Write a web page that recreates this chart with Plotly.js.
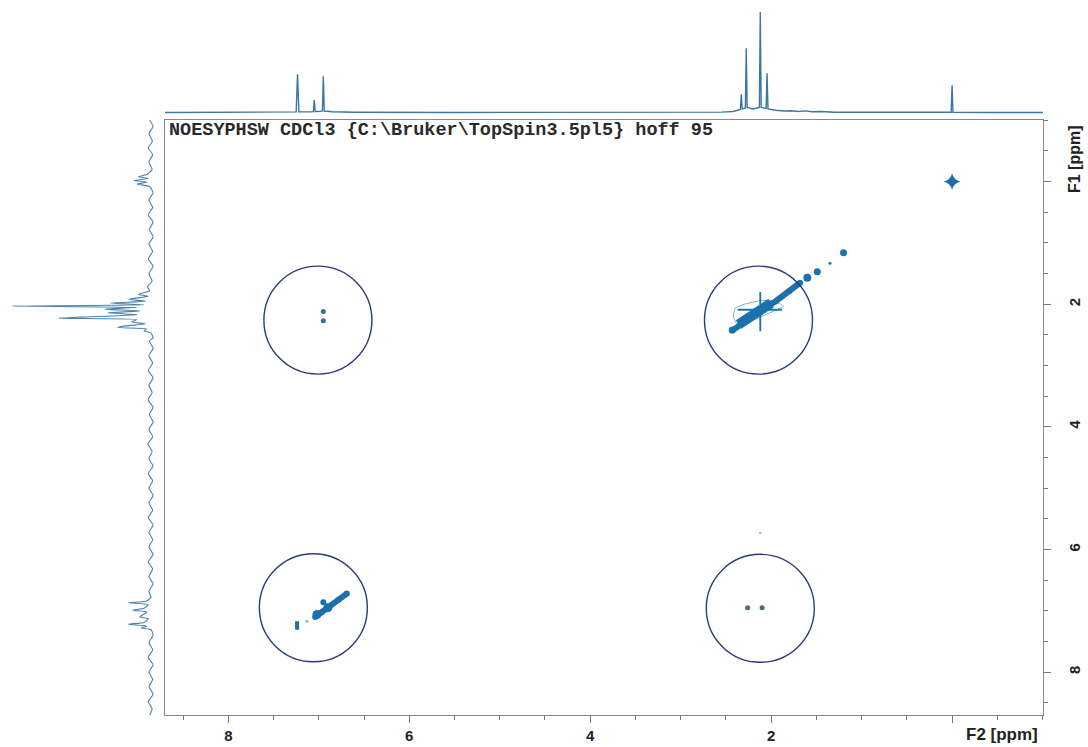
<!DOCTYPE html>
<html>
<head>
<meta charset="utf-8">
<script src="https://cdn.plot.ly/plotly-3.0.1.min.js"></script>
<style>html,body{margin:0;padding:0;background:#fff;}#plot{width:1088px;height:747px;}</style>
</head>
<body>
<div id="plot"></div>
<script>
// ---------- data (ppm values) ----------
const titleText = "NOESYPHSW CDCl3 {C:\\Bruker\\TopSpin3.5pl5} hoff 95";
const f2Label = "F2 [ppm]";
const f1Label = "F1 [ppm]";
const tickVals = [8, 6, 4, 2, 0];
const tickText = ["8", "6", "4", "2", ""];

// 1D spectrum on top (F2 projection): ppm / relative intensity
const topPpm = [8.70, 7.60, 7.40, 7.25, 7.235, 7.22, 7.10, 7.06, 7.05, 7.04,
                6.98, 6.96, 6.95, 6.94, 6.85, 6.60, 5.50, 4.00, 3.00, 2.55,
                2.42, 2.34, 2.33, 2.32, 2.285, 2.275, 2.265, 2.20, 2.13, 2.12,
                2.11, 2.055, 2.045, 2.035, 1.95, 1.85, 1.78, 1.70, 1.62, 1.55,
                1.45, 1.30, 1.00, 0.50, 0.01, 0.00, -0.01, -0.40, -1.005];
const topInt = [0.000, 0.001, 0.004, 0.006, 0.380, 0.008, 0.006, 0.008, 0.125, 0.010,
                0.012, 0.015, 0.360, 0.015, 0.008, 0.003, 0.000, 0.002, 0.001, 0.004,
                0.010, 0.030, 0.180, 0.035, 0.045, 0.640, 0.050, 0.035, 0.050, 1.000,
                0.050, 0.040, 0.390, 0.035, 0.022, 0.015, 0.018, 0.010, 0.016, 0.008,
                0.010, 0.003, 0.002, 0.000, 0.003, 0.270, 0.003, 0.000, 0.000];

// 1D spectrum on the left (F1 projection): ppm / relative intensity
const leftPpm = [-1.00, -0.90, -0.78, -0.66, -0.55, -0.44, -0.32, -0.20, -0.12, -0.08,
                 -0.05, -0.02, 0.01, 0.04, 0.08, 0.18, 0.30, 0.42, 0.54, 0.66,
                 0.78, 0.90, 1.02, 1.14, 1.26, 1.38, 1.50, 1.62, 1.72, 1.78,
                 1.84, 1.87, 1.92, 1.95, 1.98, 2.01, 2.03, 2.05, 2.08, 2.11,
                 2.14, 2.17, 2.21, 2.23, 2.25, 2.29, 2.32, 2.36, 2.38, 2.40,
                 2.43, 2.47, 2.55, 2.60, 2.72, 2.84, 2.96, 3.08, 3.20, 3.32,
                 3.44, 3.56, 3.68, 3.80, 3.92, 4.04, 4.16, 4.28, 4.40, 4.52,
                 4.64, 4.76, 4.88, 5.00, 5.12, 5.24, 5.36, 5.48, 5.60, 5.72,
                 5.84, 5.96, 6.08, 6.20, 6.32, 6.44, 6.56, 6.68, 6.78, 6.84,
                 6.87, 6.90, 6.96, 6.99, 7.02, 7.07, 7.10, 7.13, 7.19, 7.22,
                 7.25, 7.28, 7.31, 7.40, 7.52, 7.64, 7.76, 7.88, 8.00, 8.12,
                 8.24, 8.36, 8.48, 8.60, 8.70];
const leftInt = [0.010, -0.015, 0.015, -0.010, 0.020, -0.012, 0.015, -0.008, 0.025, 0.090,
                 0.020, 0.120, 0.030, 0.100, 0.010, -0.015, 0.015, -0.012, 0.020, -0.015,
                 0.012, -0.015, 0.015, -0.012, 0.020, -0.015, 0.015, -0.008, 0.025, 0.010,
                 0.090, 0.020, 0.160, 0.040, 0.290, 0.050, 0.990, 0.100, 0.330, 0.080,
                 0.310, 0.100, 0.500, 0.660, 0.100, 0.140, 0.040, 0.200, 0.240, 0.030,
                 0.050, 0.000, -0.015, 0.012, -0.015, 0.015, -0.012, 0.020, -0.015, 0.015,
                 -0.008, 0.020, -0.015, 0.012, -0.015, 0.015, -0.012, 0.022, -0.008, 0.015,
                 -0.015, 0.020, -0.012, 0.015, -0.015, 0.015, -0.012, 0.020, -0.015, 0.015,
                 -0.012, 0.015, -0.015, 0.020, -0.012, 0.015, -0.015, 0.015, 0.000, 0.030,
                 0.160, 0.020, 0.050, 0.130, 0.030, 0.060, 0.080, 0.020, 0.050, 0.160,
                 0.030, 0.070, 0.000, -0.015, 0.015, -0.012, 0.020, -0.015, 0.015, -0.012,
                 0.015, -0.015, 0.020, -0.008, 0.010];

// 2D contour features (F2 ppm, F1 ppm)
const methylBandF2 = [2.43, 2.33, 2.22, 2.10, 1.95, 1.80, 1.68];
const methylBandF1 = [2.43, 2.32, 2.21, 2.09, 1.95, 1.79, 1.65];
const methylCoreF2 = [2.36, 2.25, 2.12, 2.00];
const methylCoreF1 = [2.33, 2.22, 2.10, 1.98];
const methylBlobF2 = [2.43, 1.60, 1.49, 1.35, 1.20];
const methylBlobF1 = [2.42, 1.57, 1.47, 1.33, 1.16];
const methylVStreakF2 = [2.12, 2.12];
const methylVStreakF1 = [1.80, 2.44];
const methylHStreakF2 = [2.37, 1.88];
const methylHStreakF1 = [2.09, 2.09];
const methylOutlineF2 = [2.40, 2.30, 2.12, 1.95, 1.86, 2.00, 2.20, 2.38, 2.42, 2.40];
const methylOutlineF1 = [2.06, 2.00, 1.94, 1.94, 2.04, 2.13, 2.26, 2.33, 2.20, 2.06];

const aromBandF2 = [7.04, 6.97, 6.88, 6.78, 6.69];
const aromBandF1 = [7.10, 7.03, 6.93, 6.82, 6.72];
const aromCoreF2 = [7.02, 6.95, 6.90];
const aromCoreF1 = [7.06, 6.86, 6.95];
const solventF2 = [7.24, 7.24];
const solventF1 = [7.17, 7.31];
const solventDotF2 = [7.13];
const solventDotF1 = [7.17];

const tmsF2 = [0.00];
const tmsF1 = [0.00];

const crossF2 = [6.95, 6.95, 2.26, 2.10];
const crossF1 = [2.12, 2.27, 6.95, 6.95];

const artifactF2 = [2.12];
const artifactF1 = [5.73];

const circleF2 = [7.01, 2.14, 7.06, 2.12];
const circleF1 = [2.26, 2.26, 6.95, 6.96];

// ---------- drawing ----------
const W = 1088, H = 747;
const frameL = 165, frameR = 1043, frameT = 120, frameB = 715;
const ppmRange = [8.70, -1.005];
const contourBlue = "#1b72ab";
const specBlue = "#3a77a5";
const tickFont = {family: "Liberation Sans, Arial, sans-serif", size: 15, color: "#222", weight: 700};
const noEdge = {width: 0};

const traces = [
  {x: topPpm, y: topInt, xaxis: "x", yaxis: "y2", mode: "lines",
   line: {color: specBlue, width: 1.4}, hoverinfo: "skip"},
  {x: leftInt, y: leftPpm, xaxis: "x3", yaxis: "y", mode: "lines",
   line: {color: "#4a82ad", width: 1.1, shape: "spline", smoothing: 0.5}, hoverinfo: "skip"},
  // methyl diagonal region
  {x: methylOutlineF2, y: methylOutlineF1, mode: "lines",
   line: {color: "#7fb2da", width: 1}, hoverinfo: "skip"},
  {x: methylBandF2, y: methylBandF1, mode: "lines+markers",
   line: {color: contourBlue, width: 6}, marker: {color: contourBlue, size: 6, opacity: 1, line: noEdge}, hoverinfo: "skip"},
  {x: methylCoreF2, y: methylCoreF1, mode: "lines",
   line: {color: contourBlue, width: 10}, hoverinfo: "skip"},
  {x: methylVStreakF2, y: methylVStreakF1, mode: "lines",
   line: {color: contourBlue, width: 1.8}, hoverinfo: "skip"},
  {x: methylHStreakF2, y: methylHStreakF1, mode: "lines",
   line: {color: contourBlue, width: 1.8}, hoverinfo: "skip"},
  {x: methylBlobF2, y: methylBlobF1, mode: "markers",
   marker: {color: contourBlue, size: [7, 8, 7, 3, 7], opacity: 1, line: noEdge}, hoverinfo: "skip"},
  // aromatic diagonal region
  {x: aromBandF2, y: aromBandF1, mode: "lines+markers",
   line: {color: contourBlue, width: 6}, marker: {color: contourBlue, size: 6, opacity: 1, line: noEdge}, hoverinfo: "skip"},
  {x: aromCoreF2, y: aromCoreF1, mode: "markers",
   marker: {color: contourBlue, size: [9, 6, 9], opacity: 1, line: noEdge}, hoverinfo: "skip"},
  {x: solventF2, y: solventF1, mode: "lines",
   line: {color: contourBlue, width: 4}, hoverinfo: "skip"},
  {x: solventDotF2, y: solventDotF1, mode: "markers",
   marker: {color: "#8fb6d3", size: 3, opacity: 1, line: noEdge}, hoverinfo: "skip"},
  // TMS
  {x: tmsF2, y: tmsF1, mode: "markers",
   marker: {color: contourBlue, size: 12, symbol: "star-diamond", opacity: 1, line: noEdge}, hoverinfo: "skip"},
  // cross peaks
  {x: crossF2, y: crossF1, mode: "markers",
   marker: {color: "#3d6d8f", size: 5, opacity: 1, line: noEdge}, hoverinfo: "skip"},
  {x: artifactF2, y: artifactF1, mode: "markers",
   marker: {color: "#9fb8c8", size: 2.5, opacity: 1, line: noEdge}, hoverinfo: "skip"}
];

const shapes = circleF2.map((cx, i) => ({
  type: "circle", xref: "x", yref: "y",
  xsizemode: "pixel", ysizemode: "pixel",
  xanchor: cx, yanchor: circleF1[i],
  x0: -54, x1: 54, y0: -54, y1: 54,
  line: {color: "#2d3b7c", width: 1.4}
}));

const layout = {
  width: W, height: H,
  margin: {l: 0, r: 0, t: 0, b: 0},
  paper_bgcolor: "#fff", plot_bgcolor: "#fff",
  showlegend: false,
  xaxis: {
    domain: [frameL / W, frameR / W], range: ppmRange, anchor: "y",
    tickmode: "array", tickvals: tickVals, ticktext: tickText,
    ticks: "outside", ticklen: 7, tickwidth: 1, tickcolor: "#777", ticklabelstandoff: 0,
    minor: {tickmode: "linear", tick0: 0, dtick: 0.5, ticks: "outside", ticklen: 4, tickcolor: "#777", showgrid: false},
    showline: true, linecolor: "#888", linewidth: 1.2, mirror: true,
    showgrid: false, zeroline: false, tickfont: tickFont
  },
  yaxis: {
    domain: [(H - frameB) / H, (H - frameT) / H], range: ppmRange, anchor: "x", side: "right",
    tickmode: "array", tickvals: tickVals, ticktext: tickText, tickangle: -90,
    ticks: "outside", ticklen: 7, tickwidth: 1, tickcolor: "#777", ticklabelstandoff: 11,
    minor: {tickmode: "linear", tick0: 0, dtick: 0.5, ticks: "outside", ticklen: 4, tickcolor: "#777", showgrid: false},
    showline: true, linecolor: "#888", linewidth: 1.2, mirror: true,
    showgrid: false, zeroline: false, tickfont: tickFont
  },
  yaxis2: {
    domain: [(H - 117) / H, (H - 5) / H], range: [-0.0448, 1.0697], anchor: "x",
    visible: false, showgrid: false, zeroline: false
  },
  xaxis3: {
    domain: [0, 163 / W], range: [1.0786, -0.0857], anchor: "y",
    visible: false, showgrid: false, zeroline: false
  },
  shapes: shapes,
  annotations: [
    {text: titleText, xref: "paper", yref: "paper", x: 167 / W, y: (H - 131) / H,
     xanchor: "left", yanchor: "middle", showarrow: false,
     font: {family: "Liberation Mono, Courier New, monospace", size: 18.5, color: "#2a2a2a", weight: 700}},
    {text: f2Label, xref: "paper", yref: "paper", x: 1040 / W, y: (H - 734) / H,
     xanchor: "right", yanchor: "middle", showarrow: false,
     font: {family: tickFont.family, size: 17, color: "#222", weight: 700}},
    {text: f1Label, xref: "paper", yref: "paper", x: 1074 / W, y: (H - 159) / H,
     xanchor: "center", yanchor: "middle", showarrow: false, textangle: -90,
     font: {family: tickFont.family, size: 16, color: "#222", weight: 700}}
  ]
};

Plotly.newPlot("plot", traces, layout, {staticPlot: true, displayModeBar: false});
</script>
</body>
</html>
